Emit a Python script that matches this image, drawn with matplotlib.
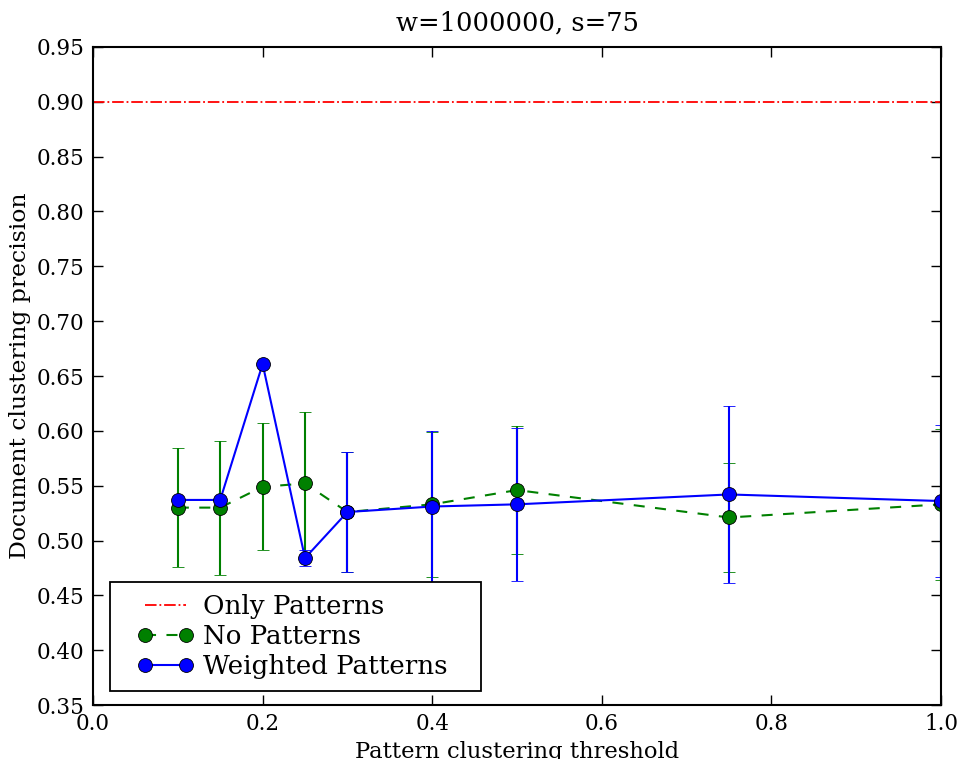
import matplotlib
matplotlib.use('Agg')
import matplotlib.pyplot as plt
from matplotlib.legend_handler import HandlerLine2D

thresholds = [0.1, 0.15, 0.2, 0.25, 0.3, 0.4, 0.5, 0.75, 1.0]

no_patterns = [0.530, 0.530, 0.549, 0.552, 0.526, 0.533, 0.546, 0.521, 0.533]
no_patterns_err = [0.054, 0.061, 0.058, 0.065, 0.055, 0.066, 0.058, 0.050, 0.069]

weighted = [0.537, 0.537, 0.661, 0.484, 0.526, 0.531, 0.533, 0.542, 0.536]
weighted_err = [0.0, 0.0, 0.0, 0.007, 0.055, 0.069, 0.070, 0.081, 0.069]

only_patterns = 0.90

plt.rcParams['font.family'] = 'DejaVu Serif'
plt.rcParams['xtick.direction'] = 'in'
plt.rcParams['ytick.direction'] = 'in'

fig = plt.figure(figsize=(9.6, 7.59), dpi=100)
ax = fig.add_axes([0.0969, 0.0711, 0.8833, 0.8670])

red, = ax.plot([0.0, 1.0], [only_patterns, only_patterns], color='red',
               linestyle='-.', linewidth=1.3)
eb_no = ax.errorbar(thresholds, no_patterns, yerr=no_patterns_err, color='green',
                    linestyle='--', dashes=(5.3, 5.0), linewidth=1.5, marker='o',
                    markersize=10, markeredgecolor='black', markeredgewidth=0.6,
                    capsize=4.2, capthick=1.5, elinewidth=1.5)
eb_w = ax.errorbar(thresholds, weighted, yerr=weighted_err, color='blue',
                   linestyle='-', linewidth=1.5, marker='o', markersize=10,
                   markeredgecolor='black', markeredgewidth=0.6, capsize=4.2,
                   capthick=1.5, elinewidth=1.5)
# caps sit underneath the markers
for eb in (eb_no, eb_w):
    for cap in eb.lines[1]:
        cap.set_zorder(1.5)
    for bar in eb.lines[2]:
        bar.set_zorder(1.5)

ax.set_xlim(0.0, 1.0)
ax.set_ylim(0.35, 0.95)
ax.set_xticks([0.0, 0.2, 0.4, 0.6, 0.8, 1.0])
ax.set_yticks([0.35 + 0.05 * i for i in range(13)])
ax.yaxis.set_major_formatter(matplotlib.ticker.FormatStrFormatter('%.2f'))
ax.xaxis.set_major_formatter(matplotlib.ticker.FormatStrFormatter('%.1f'))
ax.tick_params(axis='both', which='major', labelsize=15.5, top=True, right=True,
               length=7, width=1, pad=6)
for spine in ax.spines.values():
    spine.set_linewidth(1.5)

ax.set_title('w=1000000, s=75', fontsize=18.5, pad=12)
ax.set_xlabel('Pattern clustering threshold', fontsize=16.3)
ax.set_ylabel('Document clustering precision', fontsize=16.9)

# legend shows the plain line+marker, without the error bars
shifted = HandlerLine2D(numpoints=2, xpad=0.58)
leg = ax.legend([red, eb_no.lines[0], eb_w.lines[0]],
                ['Only Patterns', 'No Patterns', 'Weighted Patterns'],
                loc='lower left', bbox_to_anchor=(0.02, 0.0213, 0.4375, 0.2),
                mode='expand', borderaxespad=0, numpoints=2, fontsize=18.8,
                fancybox=False, edgecolor='black', framealpha=1,
                handlelength=2.78, borderpad=0.45, labelspacing=0.2,
                handletextpad=0.32,
                handler_map={red: shifted, eb_no.lines[0]: shifted,
                             eb_w.lines[0]: shifted})
leg.get_frame().set_linewidth(1.3)

fig.savefig('out.png', dpi=100)
